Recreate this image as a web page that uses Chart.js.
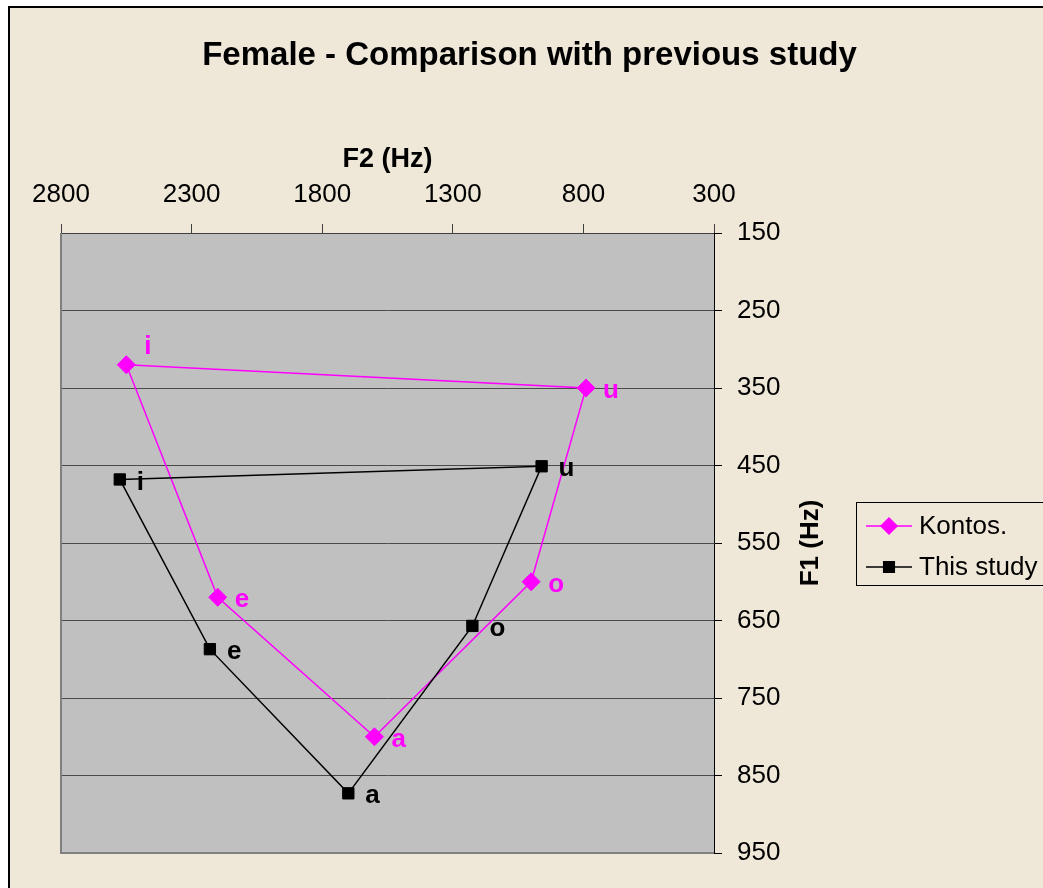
<!DOCTYPE html>
<html>
<head>
<meta charset="utf-8">
<title>Female - Comparison with previous study</title>
<script src="https://cdn.jsdelivr.net/npm/chart.js@4/dist/chart.umd.min.js"></script>
<style>
  html, body { margin: 0; padding: 0; background: #ffffff; }
  #wrap { width: 1043px; height: 888px; position: relative; }
  canvas { display: block; }
</style>
</head>
<body>
<div id="wrap"><canvas id="chart" width="1043" height="888"></canvas></div>
<script>
// Vowel formant values (Hz): F2 on the horizontal axis, F1 on the vertical axis
const vowels = ['i', 'e', 'a', 'o', 'u'];
const kontosF2 = [2550, 2200, 1600, 1000, 790];
const kontosF1 = [320, 620, 800, 600, 350];
const studyF2 = [2575, 2230, 1700, 1225, 960];
const studyF1 = [468, 687, 873, 657, 451];
const f2Ticks = [2800, 2300, 1800, 1300, 800, 300];
const f1Ticks = [150, 250, 350, 450, 550, 650, 750, 850, 950];
const seriesNames = ['Kontos.', 'This study'];

const FONT = '"Liberation Sans", Arial, Helvetica, sans-serif';
const BEIGE = 'rgb(239,232,217)';
const PLOT_GRAY = '#c0c0c0';
const MAGENTA = '#ff00ff';
const BLACK = '#000000';

Chart.defaults.font.family = FONT;

// closed vowel polygon: every vowel, then back to the first one
function polygon(f2, f1) {
  const pts = f2.map((x, k) => ({ x: x, y: f1[k], vowel: vowels[k] }));
  pts.push({ x: f2[0], y: f1[0], vowel: null });
  return pts;
}

const lastIndex = vowels.length;

// page frame, beige chart background and grey plot area
const backdrop = {
  id: 'backdrop',
  beforeDraw(chart) {
    const { ctx, chartArea: a, width, height } = chart;
    ctx.save();
    ctx.fillStyle = '#ffffff';
    ctx.fillRect(0, 0, width, height);
    ctx.fillStyle = BEIGE;
    ctx.fillRect(8, 7, width - 8, height - 7);
    ctx.fillStyle = '#000';
    ctx.fillRect(8, 6, width - 8, 2);
    ctx.fillRect(8, 6, 2, height - 6);
    ctx.fillStyle = PLOT_GRAY;
    ctx.fillRect(a.left, a.top, a.right - a.left, a.bottom - a.top);
    ctx.restore();
  },
  beforeDatasetsDraw(chart) {
    const { ctx, chartArea: a } = chart;
    ctx.save();
    ctx.fillStyle = '#808080';
    ctx.fillRect(a.left - 1, a.top, 2, a.bottom - a.top + 1);
    ctx.fillRect(a.left - 1, a.bottom - 1, a.right - a.left + 1, 2);
    ctx.restore();
  }
};

// vowel letters beside each marker
const vowelLabels = {
  id: 'vowelLabels',
  afterDatasetsDraw(chart, args, opts) {
    const { ctx } = chart;
    ctx.save();
    ctx.font = 'bold 26px ' + FONT;
    ctx.textAlign = 'left';
    ctx.textBaseline = 'middle';
    chart.data.datasets.forEach((ds, di) => {
      const meta = chart.getDatasetMeta(di);
      ctx.fillStyle = ds.borderColor;
      ds.data.forEach((p, k) => {
        if (!p.vowel) return;
        const el = meta.data[k];
        const shift = (opts.shift[di] && opts.shift[di][p.vowel]) || opts.base;
        ctx.fillText(p.vowel, el.x + shift[0], el.y + shift[1]);
      });
    });
    ctx.restore();
  }
};

// rotated F1 title and the boxed legend on the right
const sidePanel = {
  id: 'sidePanel',
  afterDraw(chart) {
    const { ctx, chartArea: a } = chart;
    ctx.save();
    ctx.fillStyle = '#000';
    ctx.font = 'bold 26px ' + FONT;
    ctx.textAlign = 'center';
    ctx.textBaseline = 'middle';
    ctx.translate(a.right + 97, (a.top + a.bottom) / 2);
    ctx.rotate(-Math.PI / 2);
    ctx.fillText('F1 (Hz)', 0, 0);
    ctx.restore();

    const bx = a.right + 142, by = 502, bw = 200, bh = 83;
    ctx.save();
    ctx.strokeStyle = '#000';
    ctx.lineWidth = 1;
    ctx.strokeRect(bx + 0.5, by + 0.5, bw, bh);
    const rows = [526, 567];
    chart.data.datasets.forEach((ds, di) => {
      const y = rows[di];
      ctx.strokeStyle = ds.borderColor;
      ctx.lineWidth = 1.5;
      ctx.beginPath();
      ctx.moveTo(bx + 10, y);
      ctx.lineTo(bx + 56, y);
      ctx.stroke();
      ctx.fillStyle = ds.borderColor;
      Chart.helpers.drawPoint(ctx, {
        pointStyle: ds.pointStyle, radius: di === 0 ? 8 : 7.5, borderWidth: 1, rotation: 0
      }, bx + 33, y);
      ctx.fill();
      ctx.fillStyle = '#000';
      ctx.font = '26px ' + FONT;
      ctx.textAlign = 'left';
      ctx.textBaseline = 'middle';
      ctx.fillText(ds.label, bx + 63, y + 1);
    });
    ctx.restore();
  }
};

const markerRadius = (r) => (c) => (c.dataIndex === lastIndex ? 0 : r);
const plainNumber = (v) => String(v);

new Chart(document.getElementById('chart'), {
  type: 'scatter',
  data: {
    datasets: [
      {
        label: seriesNames[0],
        data: polygon(kontosF2, kontosF1),
        showLine: true,
        borderColor: MAGENTA,
        backgroundColor: MAGENTA,
        borderWidth: 1.5,
        pointStyle: 'rectRot',
        pointRadius: markerRadius(9),
        pointBorderWidth: 1,
        order: 2
      },
      {
        label: seriesNames[1],
        data: polygon(studyF2, studyF1),
        showLine: true,
        borderColor: BLACK,
        backgroundColor: BLACK,
        borderWidth: 1.5,
        pointStyle: 'rect',
        pointRadius: markerRadius(8),
        pointBorderWidth: 1,
        order: 1
      }
    ]
  },
  options: {
    responsive: false,
    maintainAspectRatio: false,
    animation: false,
    devicePixelRatio: 1,
    events: [],
    layout: { padding: { top: 0, left: 61, right: 45, bottom: 35 } },
    scales: {
      x: {
        type: 'linear',
        position: 'top',
        reverse: true,
        min: 300,
        max: 2800,
        afterBuildTicks: (s) => { s.ticks = f2Ticks.map((value) => ({ value })); },
        afterFit: (s) => { s.height = 157.2; },
        grid: { drawOnChartArea: false, drawTicks: true, tickLength: 9, tickColor: '#404040', tickWidth: 1 },
        border: { display: true, color: '#404040', width: 1 },
        ticks: { color: '#000', font: { size: 26 }, padding: 14, maxRotation: 0, autoSkip: false, callback: plainNumber },
        title: {
          display: true, text: 'F2 (Hz)', color: '#000',
          font: { size: 27, weight: 'bold' }, padding: { top: 67.5, bottom: 0 }
        }
      },
      y: {
        type: 'linear',
        position: 'right',
        reverse: true,
        min: 150,
        max: 950,
        afterBuildTicks: (s) => { s.ticks = f1Ticks.map((value) => ({ value })); },
        afterFit: (s) => { s.width = 284; },
        grid: {
          color: (c) => (c.tick && c.tick.value === 950 ? '#808080' : '#4a4a4a'),
          lineWidth: 1, drawTicks: true, tickLength: 8, tickColor: '#000'
        },
        border: { display: true, color: '#000', width: 1 },
        ticks: { color: '#000', font: { size: 26 }, padding: 15, autoSkip: false, callback: plainNumber },
        title: { display: false }
      }
    },
    plugins: {
      legend: { display: false },
      tooltip: { enabled: false },
      title: {
        display: true,
        text: 'Female - Comparison with previous study',
        color: '#000',
        font: { size: 33, weight: 'bold' },
        padding: { top: 36.2, bottom: 0 }
      },
      vowelLabels: {
        base: [17, 3],
        shift: [{ i: [18, -18] }, {}]
      }
    }
  },
  plugins: [backdrop, vowelLabels, sidePanel]
});
</script>
</body>
</html>
